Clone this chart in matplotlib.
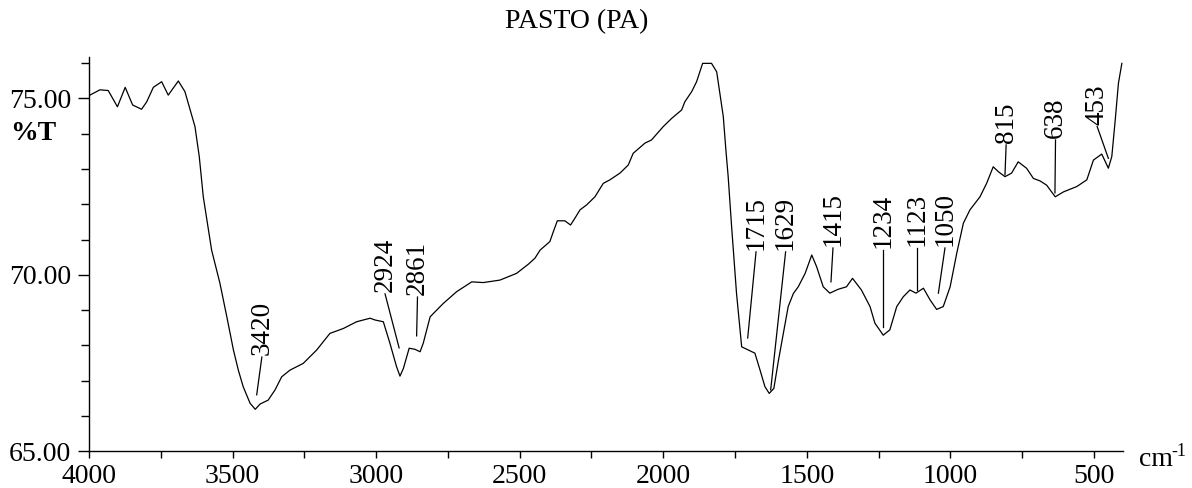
import numpy as np
import matplotlib.pyplot as plt
from matplotlib.ticker import MultipleLocator, FormatStrFormatter

plt.rcParams['font.family'] = ['Liberation Serif', 'DejaVu Serif']

# spectre IR (nombre d'onde cm-1, %T)
wn = [3997, 3962, 3933, 3901, 3874, 3848, 3817, 3799, 3776, 3747, 3724, 3689,
      3666, 3646, 3631, 3616, 3602, 3573, 3544, 3520, 3497, 3480, 3463, 3439,
      3421, 3404, 3376, 3352, 3329, 3300, 3254, 3207, 3161, 3114, 3068, 3021,
      3004, 2975, 2952, 2929, 2917, 2905, 2885, 2865, 2847, 2836, 2812, 2766,
      2720, 2667, 2627, 2569, 2511, 2470, 2447, 2429, 2395, 2383, 2369, 2343,
      2323, 2308, 2290, 2267, 2238, 2209, 2186, 2151, 2122, 2105, 2064, 2041,
      2000, 1971, 1936, 1925, 1901, 1884, 1863, 1832, 1814, 1803, 1791, 1782,
      1774, 1762, 1745, 1727, 1704, 1681, 1663, 1646, 1631, 1615, 1599, 1582,
      1565, 1547, 1530, 1506, 1483, 1466, 1443, 1420, 1391, 1362, 1341, 1310,
      1280, 1263, 1234, 1211, 1187, 1164, 1141, 1120, 1094, 1071, 1048, 1025,
      1001, 978, 955, 932, 897, 874, 851, 833, 810, 787, 764, 735, 711, 688,
      665, 635, 606, 560, 525, 502, 473, 450, 438, 426, 415, 403]
tr = [75.09, 75.24, 75.22, 74.76, 75.31, 74.81, 74.69, 74.90, 75.31, 75.47, 75.09, 75.49,
      75.19, 74.62, 74.20, 73.35, 72.21, 70.70, 69.76, 68.81, 67.87, 67.30, 66.83, 66.36,
      66.19, 66.34, 66.45, 66.74, 67.11, 67.30, 67.49, 67.87, 68.34, 68.48, 68.67, 68.77,
      68.72, 68.67, 68.06, 67.40, 67.13, 67.35, 67.92, 67.89, 67.82, 68.06, 68.81, 69.19,
      69.52, 69.80, 69.78, 69.85, 70.04, 70.30, 70.47, 70.70, 70.94, 71.22, 71.53, 71.53,
      71.41, 71.60, 71.84, 71.98, 72.21, 72.59, 72.69, 72.88, 73.11, 73.44, 73.73, 73.82,
      74.20, 74.43, 74.67, 74.90, 75.19, 75.47, 75.99, 75.99, 75.75, 75.14, 74.48, 73.54,
      72.78, 71.36, 69.48, 67.96, 67.87, 67.78, 67.30, 66.83, 66.64, 66.78, 67.57, 68.34,
      69.10, 69.47, 69.66, 70.04, 70.56, 70.23, 69.66, 69.48, 69.59, 69.66, 69.90, 69.57,
      69.10, 68.63, 68.29, 68.44, 69.10, 69.38, 69.57, 69.48, 69.62, 69.29, 69.02, 69.10,
      69.66, 70.61, 71.46, 71.84, 72.21, 72.59, 73.06, 72.92, 72.78, 72.88, 73.20, 73.02, 72.73, 72.66,
      72.54, 72.21, 72.35, 72.50, 72.69, 73.25, 73.42, 73.02, 73.35, 74.39, 75.42, 75.99]

# pics annotés
pics = ['3420', '2924', '2861', '1715', '1629', '1415', '1234', '1123', '1050', '815', '638', '453']
# placement des étiquettes : (x texte, y texte) -> (x pointe, y pointe)
lab_x = [3398, 2969, 2856, 1677, 1574, 1409, 1236, 1117, 1019, 806, 634, 489]
lab_y = [67.67, 69.46, 69.37, 70.65, 70.65, 70.76, 70.70, 70.76, 70.76, 73.68, 73.82, 74.20]
tip_x = [3416, 2920, 2859, 1706, 1626, 1416, 1236, 1117, 1042, 810, 636, 450]
tip_y = [66.60, 67.93, 68.27, 68.21, 66.74, 69.80, 68.53, 69.57, 69.48, 72.83, 72.32, 73.30]

fig = plt.figure(figsize=(11.92, 4.88), dpi=100)
ax = fig.add_axes([89/1192, 36.7/488, (1123-89)/1192, (451.3-57)/488])

ax.plot(wn, tr, color='black', lw=0.9)

for i in range(len(pics)):
    ax.plot([lab_x[i], tip_x[i]], [lab_y[i], tip_y[i]], color='black', lw=0.9)
    ax.text(lab_x[i], lab_y[i] + 0.05, pics[i], rotation=90, ha='center', va='bottom',
            fontsize=19.5)

ax.set_xlim(4000, 399)
ax.set_ylim(65, 76.17)
ax.xaxis.set_major_locator(MultipleLocator(500))
ax.xaxis.set_minor_locator(MultipleLocator(250))
ax.yaxis.set_major_locator(MultipleLocator(5))
ax.yaxis.set_minor_locator(MultipleLocator(1))
ax.yaxis.set_major_formatter(FormatStrFormatter('%.2f'))

for s in ['top', 'right']:
    ax.spines[s].set_visible(False)
for s in ['left', 'bottom']:
    ax.spines[s].set_linewidth(1.0)

ax.tick_params(axis='y', which='major', length=8, width=1, labelsize=20, pad=5)
ax.tick_params(axis='y', which='minor', length=5.5, width=1)
ax.tick_params(axis='x', which='both', length=5, width=1, labelsize=20, pad=4)

fig.text(577/1192, 1 - 22/488, 'PASTO (PA)', ha='center', va='center', fontsize=20)
fig.text(33/1192, 1 - 134/488, '%T', ha='center', va='center', fontsize=20, fontweight='bold')
fig.text(1139/1192, 1 - 466/488, 'cm', ha='left', va='baseline', fontsize=20)
fig.text(1171/1192, 1 - 456/488, '-1', ha='left', va='baseline', fontsize=13)

plt.savefig('out.png', dpi=100)
